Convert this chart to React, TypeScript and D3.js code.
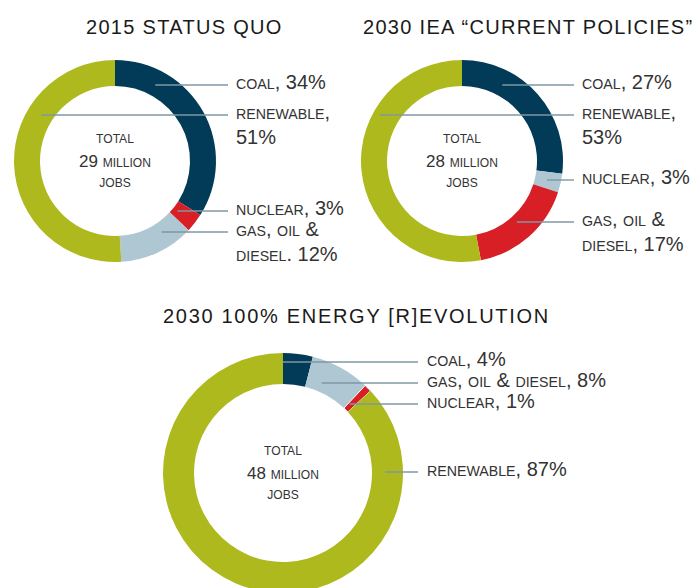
import React from 'react'
import * as d3 from 'd3'

// colours
const NAVY = '#023b57'
const RED = '#d81f26'
const LIGHT = '#aec7d3'
const GREEN = '#aeb91d'
const LEADER = '#7f97a3'
const INK = '#333333'

// 2015 status quo
const statusQuoNames = ['coal', 'nuclear', 'gas', 'renewable']
const statusQuoShares = [34, 3, 12, 51]
const statusQuoColors = [NAVY, RED, LIGHT, GREEN]
const statusQuoLabels = ['coal, {v}%', 'nuclear, {v}%', 'gas, oil &|diesel. {v}%', 'renewable,|{v}%']

// 2030 IEA current policies
const currentNames = ['coal', 'nuclear', 'gas', 'renewable']
const currentShares = [27, 3, 17, 53]
const currentColors = [NAVY, LIGHT, RED, GREEN]
const currentLabels = ['coal, {v}%', 'nuclear, {v}%', 'gas, oil &|diesel, {v}%', 'renewable,|{v}%']

// 2030 energy [r]evolution
const revolutionNames = ['coal', 'gas', 'nuclear', 'renewable']
const revolutionShares = [4, 8, 1, 87]
const revolutionColors = [NAVY, LIGHT, RED, GREEN]
const revolutionLabels = ['coal, {v}%', 'gas, oil & diesel, {v}%', 'nuclear, {v}%', 'renewable, {v}%']

const totals = [29, 28, 48]
const titles = ['2015 STATUS QUO', '2030 IEA \u201cCURRENT POLICIES\u201d', '2030 100% ENERGY [R]EVOLUTION']

// lowercase letters -> small caps, everything else full size
function SmallCaps({ text, size }: { text: string; size: number }) {
  const runs: { s: string; small: boolean }[] = []
  for (const ch of text) {
    const small = /[a-z]/.test(ch)
    const last = runs[runs.length - 1]
    if (last && last.small === small) last.s += ch
    else runs.push({ s: ch, small })
  }
  return (
    <>
      {runs.map((r, i) => (
        <tspan key={i} fontSize={r.small ? size * 0.71 : size}>
          {r.small ? r.s.toUpperCase() : r.s}
        </tspan>
      ))}
    </>
  )
}

interface LabelLayout {
  lineY: number
  reach: number
  side: 1 | -1
}

interface DonutProps {
  names: string[]
  shares: number[]
  colors: string[]
  labels: string[]
  layout: LabelLayout[]
  total: number
  cx: number
  cy: number
  outer: number
  inner: number
  lineEnd: number
  gap: number
}

function Donut({ names, shares, colors, labels, layout, total, cx, cy, outer, inner, lineEnd, gap }: DonutProps) {
  const pie = d3.pie<number>().sort(null).value(d => d)
  const arc = d3.arc<d3.PieArcDatum<number>>().innerRadius(inner).outerRadius(outer)
  const arcs = pie(shares)

  return (
    <g>
      <g transform={`translate(${cx},${cy})`}>
        {arcs.map((a, i) => (
          <path key={names[i]} d={arc(a) ?? ''} fill={colors[i]}
            stroke={names[i] === 'nuclear' && outer > 110 ? '#fff' : 'none'} strokeWidth={1} />
        ))}
      </g>
      {labels.map((tpl, i) => {
        const l = layout[i]
        const dy = l.lineY - cy
        const x0 = cx + l.side * Math.sqrt(Math.max(0, l.reach * l.reach - dy * dy))
        const lines = tpl.replace('{v}', String(shares[i])).split('|')
        return (
          <g key={names[i]}>
            <line x1={x0} x2={lineEnd} y1={l.lineY} y2={l.lineY} stroke={LEADER} strokeWidth={1.4} />
            {lines.map((t, j) => (
              <text key={j} x={lineEnd + gap} y={l.lineY + 4 + j * 25} fill={INK}>
                <SmallCaps text={t} size={20} />
              </text>
            ))}
          </g>
        )
      })}
      <g textAnchor="middle" fill={INK}>
        <text x={cx} y={cy - 18}><SmallCaps text="total" size={17} /></text>
        <text x={cx} y={cy + 6}><SmallCaps text={`${total} million`} size={17} /></text>
        <text x={cx} y={cy + 26}><SmallCaps text="jobs" size={17} /></text>
      </g>
    </g>
  )
}

export default function App() {
  return (
    <svg width={700} height={588} style={{ position: 'absolute', left: 0, top: 0, background: '#fff' }}
      fontFamily="'Liberation Sans', Arial, sans-serif">
      <g fill="#1a1a1a" fontSize={20} letterSpacing={1.3}>
        <text x={86} y={34}>{titles[0]}</text>
        <text x={363} y={34}>{titles[1]}</text>
        <text x={163} y={323} letterSpacing={1.7}>{titles[2]}</text>
      </g>
      <Donut names={statusQuoNames} shares={statusQuoShares} colors={statusQuoColors} labels={statusQuoLabels}
        layout={[
          { lineY: 85, reach: 86, side: 1 },
          { lineY: 211, reach: 80, side: 1 },
          { lineY: 232, reach: 85, side: 1 },
          { lineY: 115, reach: 87, side: -1 },
        ]}
        total={totals[0]} cx={115} cy={161} outer={101} inner={75} lineEnd={228} gap={8} />
      <Donut names={currentNames} shares={currentShares} colors={currentColors} labels={currentLabels}
        layout={[
          { lineY: 85, reach: 86, side: 1 },
          { lineY: 180, reach: 87, side: 1 },
          { lineY: 222, reach: 82, side: 1 },
          { lineY: 115, reach: 94, side: -1 },
        ]}
        total={totals[1]} cx={462} cy={161} outer={101} inner={75} lineEnd={574} gap={8} />
      <Donut names={revolutionNames} shares={revolutionShares} colors={revolutionColors} labels={revolutionLabels}
        layout={[
          { lineY: 362, reach: 111, side: 1 },
          { lineY: 383, reach: 98, side: 1 },
          { lineY: 404, reach: 96, side: 1 },
          { lineY: 472, reach: 102, side: 1 },
        ]}
        total={totals[2]} cx={283} cy={473} outer={120} inner={89} lineEnd={418} gap={9} />
    </svg>
  )
}
